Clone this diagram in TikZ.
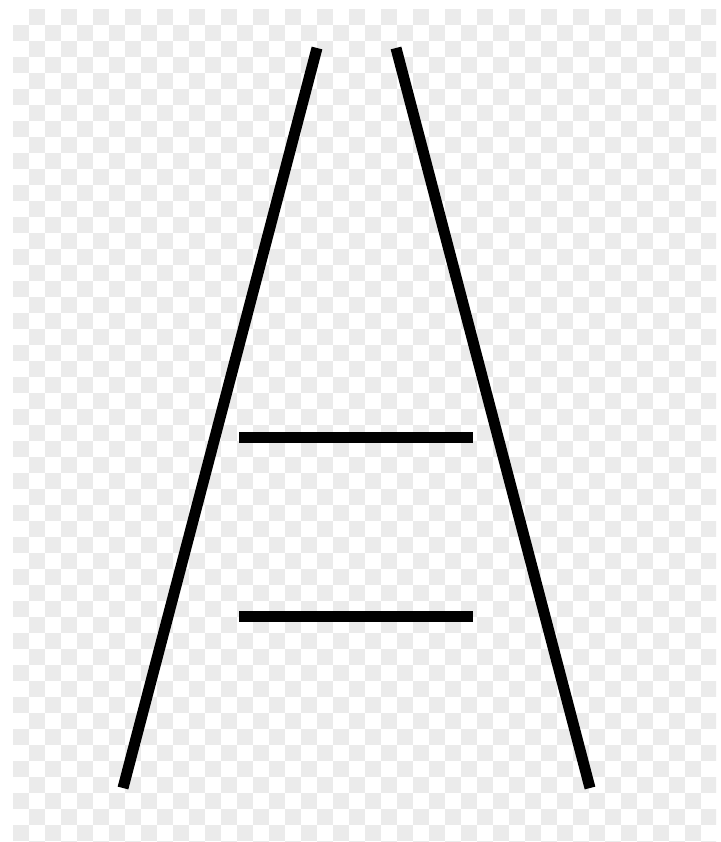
\documentclass[tikz,border=0pt]{standalone}
\definecolor{checkgray}{HTML}{EBEBEB}
\begin{document}
\begin{tikzpicture}[x=1pt,y=-1pt,
  bar/.style={line width=11pt,line cap=butt,black}]
\useasboundingbox (0,0) rectangle (720,842);
\fill[white] (0,0) rectangle (720,842);
\begin{scope}
\clip (13,9) rectangle (716,842);
\foreach \i in {0,...,44}{
  \foreach \j in {0,...,52}{
    \pgfmathtruncatemacro\kk{mod(\i+\j,2)}
    \ifnum\kk=1
      \fill[checkgray] ({13+16*\i},{9+16*\j}) rectangle ++(16,16);
    \fi
  }
}
\end{scope}
\coordinate (lt) at (317,48);
\coordinate (lb) at (123,788);
\coordinate (rt) at (396,48);
\coordinate (rb) at (590,788);
\coordinate (h1a) at (239,437.5);
\coordinate (h1b) at (473,437.5);
\coordinate (h2a) at (239,616.5);
\coordinate (h2b) at (473,616.5);
\draw[bar] (lt) -- (lb);
\draw[bar] (rt) -- (rb);
\draw[bar] (h1a) -- (h1b);
\draw[bar] (h2a) -- (h2b);
\end{tikzpicture}
\end{document}
